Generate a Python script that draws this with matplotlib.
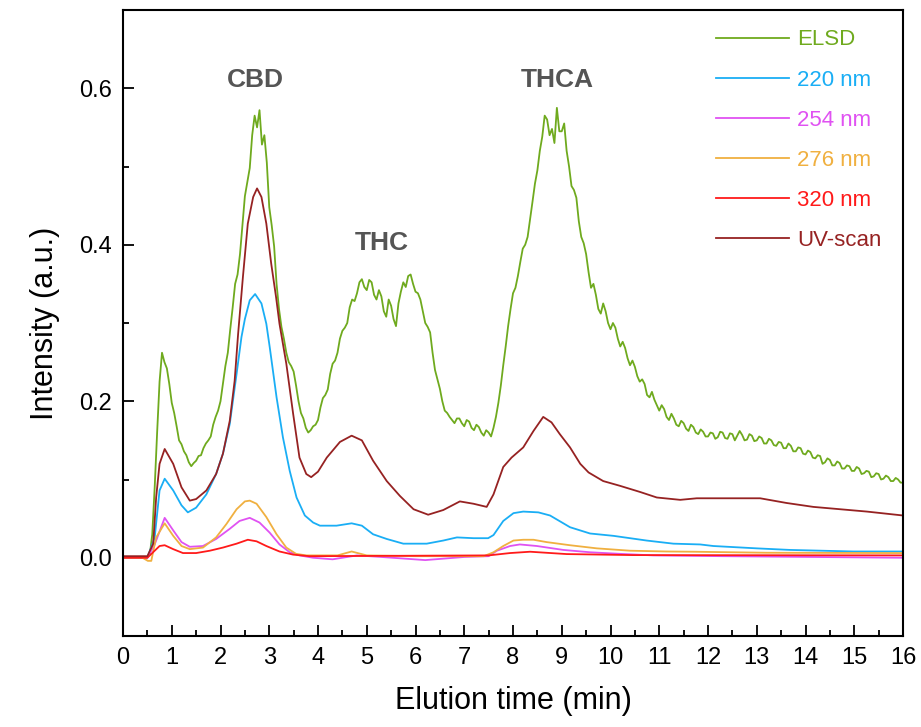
import numpy as np
import matplotlib
matplotlib.use("Agg")
import matplotlib.pyplot as plt
from matplotlib.ticker import MultipleLocator, FormatStrFormatter

plt.rcParams['font.family'] = ['Liberation Sans', 'DejaVu Sans']

# ---------------- data ----------------
elsd_time = np.linspace(0, 16, 321)
elsd_vals = [
    0.000, 0.000, 0.000, 0.000, 0.000, 0.000, 0.000, 0.000, 0.000, 0.000,
    0.001, 0.004, 0.030, 0.090, 0.160, 0.225, 0.262, 0.250, 0.242, 0.222,
    0.198, 0.185, 0.168, 0.150, 0.145, 0.136, 0.131, 0.122, 0.117, 0.121,
    0.124, 0.130, 0.131, 0.140, 0.146, 0.150, 0.155, 0.170, 0.180, 0.188,
    0.200, 0.222, 0.245, 0.262, 0.292, 0.320, 0.350, 0.362, 0.388, 0.425,
    0.462, 0.480, 0.498, 0.540, 0.565, 0.550, 0.572, 0.528, 0.540, 0.505,
    0.448, 0.425, 0.398, 0.350, 0.318, 0.295, 0.280, 0.262, 0.250, 0.245,
    0.238, 0.220, 0.200, 0.185, 0.178, 0.166, 0.160, 0.163, 0.168, 0.170,
    0.176, 0.192, 0.204, 0.208, 0.215, 0.235, 0.248, 0.252, 0.262, 0.280,
    0.290, 0.294, 0.300, 0.320, 0.330, 0.328, 0.338, 0.352, 0.356, 0.346,
    0.342, 0.355, 0.352, 0.336, 0.330, 0.342, 0.334, 0.315, 0.308, 0.330,
    0.322, 0.305, 0.296, 0.325, 0.340, 0.352, 0.346, 0.360, 0.362, 0.350,
    0.340, 0.338, 0.330, 0.315, 0.300, 0.295, 0.288, 0.262, 0.240, 0.228,
    0.216, 0.200, 0.188, 0.185, 0.180, 0.176, 0.172, 0.178, 0.178, 0.172,
    0.168, 0.176, 0.174, 0.166, 0.163, 0.170, 0.167, 0.160, 0.156, 0.163,
    0.160, 0.155, 0.166, 0.180, 0.198, 0.220, 0.246, 0.270, 0.296, 0.318,
    0.338, 0.345, 0.360, 0.378, 0.395, 0.400, 0.410, 0.432, 0.455, 0.478,
    0.495, 0.520, 0.538, 0.565, 0.560, 0.540, 0.548, 0.530, 0.575, 0.545,
    0.545, 0.555, 0.520, 0.500, 0.475, 0.470, 0.460, 0.430, 0.410, 0.402,
    0.388, 0.365, 0.345, 0.350, 0.336, 0.318, 0.312, 0.325, 0.315, 0.300,
    0.292, 0.300, 0.294, 0.280, 0.270, 0.276, 0.268, 0.255, 0.246, 0.252,
    0.244, 0.232, 0.225, 0.228, 0.222, 0.208, 0.205, 0.212, 0.202, 0.195,
    0.188, 0.195, 0.190, 0.180, 0.176, 0.184, 0.178, 0.170, 0.168, 0.175,
    0.172, 0.165, 0.162, 0.170, 0.167, 0.160, 0.158, 0.164, 0.161, 0.155,
    0.155, 0.160, 0.159, 0.152, 0.154, 0.161, 0.160, 0.153, 0.152, 0.159,
    0.158, 0.150, 0.156, 0.162, 0.157, 0.150, 0.151, 0.158, 0.156, 0.149,
    0.150, 0.155, 0.153, 0.146, 0.146, 0.152, 0.150, 0.144, 0.143, 0.148,
    0.147, 0.140, 0.140, 0.146, 0.143, 0.136, 0.136, 0.141, 0.140, 0.133,
    0.132, 0.137, 0.135, 0.128, 0.127, 0.131, 0.130, 0.120, 0.122, 0.127,
    0.125, 0.118, 0.118, 0.123, 0.121, 0.114, 0.114, 0.118, 0.117, 0.111,
    0.111, 0.116, 0.114, 0.107, 0.108, 0.111, 0.110, 0.103, 0.104, 0.108,
    0.107, 0.100, 0.101, 0.105, 0.103, 0.098, 0.098, 0.102, 0.100, 0.096,
    0.096,
]
elsd_end_time = [16.0, 16.0]
elsd_end_vals = [0.096, 0.0]

uv_time = [0, 0.5, 0.62, 0.68, 0.75, 0.855, 1.03, 1.2, 1.37, 1.5, 1.71, 1.91, 2.05,
           2.19, 2.29, 2.36, 2.46, 2.56, 2.67, 2.75, 2.84, 2.94, 3.04, 3.14, 3.21,
           3.35, 3.49, 3.62, 3.76, 3.86, 4.0, 4.18, 4.45, 4.69, 4.9, 5.13, 5.41,
           5.68, 5.96, 6.26, 6.57, 6.91, 7.19, 7.46, 7.6, 7.8, 7.97, 8.21, 8.42,
           8.62, 8.79, 8.96, 9.17, 9.38, 9.55, 9.85, 10.19, 10.61, 10.95, 11.43,
           11.77, 13.07, 13.61, 14.16, 14.71, 15.26, 16.0]
uv_vals = [0.002, 0.002, 0.018, 0.077, 0.12, 0.139, 0.12, 0.09, 0.073, 0.075, 0.086,
           0.107, 0.133, 0.175, 0.226, 0.285, 0.359, 0.427, 0.461, 0.472, 0.461,
           0.427, 0.376, 0.333, 0.299, 0.248, 0.184, 0.128, 0.107, 0.103, 0.11,
           0.128, 0.148, 0.156, 0.15, 0.124, 0.098, 0.079, 0.062, 0.055, 0.061,
           0.072, 0.069, 0.065, 0.081, 0.116, 0.128, 0.141, 0.162, 0.18, 0.173,
           0.158, 0.141, 0.12, 0.109, 0.098, 0.092, 0.084, 0.077, 0.074, 0.076,
           0.076, 0.07, 0.065, 0.062, 0.059, 0.054]

nm220_time = [0, 0.5, 0.65, 0.75, 0.855, 1.03, 1.2, 1.33, 1.5, 1.71, 1.91, 2.05,
              2.19, 2.33, 2.43, 2.5, 2.6, 2.71, 2.84, 2.94, 3.01, 3.15, 3.28, 3.42,
              3.56, 3.73, 3.9, 4.04, 4.38, 4.69, 4.9, 5.13, 5.41, 5.75, 6.23, 6.57,
              6.85, 7.19, 7.49, 7.6, 7.8, 8.01, 8.21, 8.52, 8.76, 9.17, 9.58, 10.06,
              10.74, 11.29, 11.84, 12.11, 13.0, 13.68, 14.98, 16.0]
nm220_vals = [0.0, 0.0, 0.026, 0.086, 0.101, 0.086, 0.067, 0.058, 0.064, 0.081,
              0.107, 0.133, 0.171, 0.235, 0.282, 0.305, 0.329, 0.337, 0.325, 0.299,
              0.269, 0.205, 0.154, 0.111, 0.077, 0.054, 0.045, 0.041, 0.041, 0.044,
              0.041, 0.03, 0.024, 0.018, 0.018, 0.022, 0.026, 0.025, 0.025, 0.029,
              0.047, 0.057, 0.059, 0.058, 0.054, 0.039, 0.031, 0.028, 0.022, 0.018,
              0.017, 0.015, 0.012, 0.01, 0.008, 0.008]

nm254_time = [0, 0.5, 0.65, 0.855, 1.03, 1.2, 1.37, 1.64, 1.91, 2.19, 2.39, 2.6,
              2.8, 3.01, 3.21, 3.42, 3.62, 3.9, 4.3, 4.8, 5.3, 6.2, 7.0, 7.5, 7.67,
              7.94, 8.14, 8.49, 9.03, 9.58, 10.19, 10.88, 12.3, 16.0]
nm254_vals = [0.0, 0.0, 0.017, 0.051, 0.035, 0.02, 0.014, 0.015, 0.024, 0.037,
              0.047, 0.051, 0.045, 0.032, 0.017, 0.007, 0.003, 0.0, -0.002, 0.003,
              0.001, -0.003, 0.001, 0.002, 0.009, 0.015, 0.017, 0.015, 0.01, 0.007,
              0.005, 0.003, 0.002, 0.0]

nm276_time = [0, 0.4, 0.51, 0.58, 0.68, 0.855, 1.03, 1.2, 1.37, 1.64, 1.91, 2.12,
              2.33, 2.5, 2.6, 2.74, 2.94, 3.15, 3.35, 3.55, 3.76, 4.4, 4.69, 5.0,
              6.0, 7.4, 7.6, 7.8, 8.01, 8.21, 8.42, 8.69, 9.17, 9.72, 10.4, 11.15,
              11.7, 13.2, 16.0]
nm276_vals = [0.0, 0.0, -0.004, -0.004, 0.026, 0.044, 0.028, 0.015, 0.011, 0.013,
              0.026, 0.043, 0.062, 0.072, 0.073, 0.069, 0.052, 0.03, 0.013, 0.005,
              0.003, 0.003, 0.008, 0.003, 0.002, 0.002, 0.007, 0.015, 0.022, 0.023,
              0.023, 0.02, 0.016, 0.012, 0.009, 0.008, 0.0077, 0.0064, 0.006]

nm320_time = [0, 0.5, 0.65, 0.75, 0.855, 1.03, 1.23, 1.5, 1.78, 2.05, 2.33, 2.56,
              2.74, 2.94, 3.21, 3.49, 3.83, 7.5, 7.94, 8.35, 9.1, 10.46, 16.0]
nm320_vals = [0.0, 0.0, 0.009, 0.015, 0.016, 0.011, 0.006, 0.006, 0.009, 0.013,
              0.018, 0.023, 0.021, 0.015, 0.008, 0.004, 0.002, 0.003, 0.006, 0.0077,
              0.0047, 0.0034, 0.003]

series_labels = ['ELSD', '220 nm', '254 nm', '276 nm', '320 nm', 'UV-scan']
series_colors = ['#6FAA1E', '#1AAEF5', '#E052F2', '#F0B040', '#FF1A1A', '#962222']

peak_labels = ['CBD', 'THC', 'THCA']
peak_pos = [(2.72, 0.61), (5.3, 0.402), (8.9, 0.611)]

x_ticks = list(range(0, 17))
y_ticks = [0.0, 0.2, 0.4, 0.6]

# ---------------- figure ----------------
fig = plt.figure(figsize=(9.21, 7.27), dpi=100)
ax = fig.add_axes([123 / 921, 1 - 636 / 727, 780 / 921, 626 / 727])

lw = 1.3
l_elsd, = ax.plot(elsd_time, elsd_vals, color=series_colors[0], lw=lw, label=series_labels[0])
ax.plot(elsd_end_time, elsd_end_vals, color=series_colors[0], lw=lw)
l_220, = ax.plot(nm220_time, nm220_vals, color=series_colors[1], lw=lw, label=series_labels[1])
l_254, = ax.plot(nm254_time, nm254_vals, color=series_colors[2], lw=lw, label=series_labels[2])
l_276, = ax.plot(nm276_time, nm276_vals, color=series_colors[3], lw=lw, label=series_labels[3])
l_320, = ax.plot(nm320_time, nm320_vals, color=series_colors[4], lw=lw, label=series_labels[4])
l_uv, = ax.plot(uv_time, uv_vals, color=series_colors[5], lw=lw, label=series_labels[5])

ax.set_xlim(0, 16)
ax.set_ylim(-0.1, 0.7)
ax.set_xticks(x_ticks)
ax.set_yticks(y_ticks)
ax.xaxis.set_minor_locator(MultipleLocator(0.5))
ax.yaxis.set_minor_locator(MultipleLocator(0.1))
ax.yaxis.set_major_formatter(FormatStrFormatter('%.1f'))
ax.tick_params(which='both', direction='in', top=False, right=False, width=1.3)
ax.tick_params(which='major', length=8, labelsize=17, pad=8)
ax.tick_params(which='minor', length=4)
for s in ax.spines.values():
    s.set_linewidth(1.5)

ax.set_xlabel('Elution time (min)', fontsize=22, labelpad=12)
ax.set_ylabel('Intensity (a.u.)', fontsize=22, labelpad=14)

for lab, (px, py) in zip(peak_labels, peak_pos):
    ax.text(px, py, lab, fontsize=19, fontweight='bold', color='#555555',
            ha='center', va='center')

leg = ax.legend(handles=[l_elsd, l_220, l_254, l_276, l_320, l_uv],
                loc='upper left', bbox_to_anchor=(0.760, 0.969), frameon=False,
                fontsize=16, handlelength=3.3, handletextpad=0.35,
                labelspacing=0.86, borderpad=0, borderaxespad=0,
                labelcolor='linecolor')

fig.savefig('out.png', dpi=100)
